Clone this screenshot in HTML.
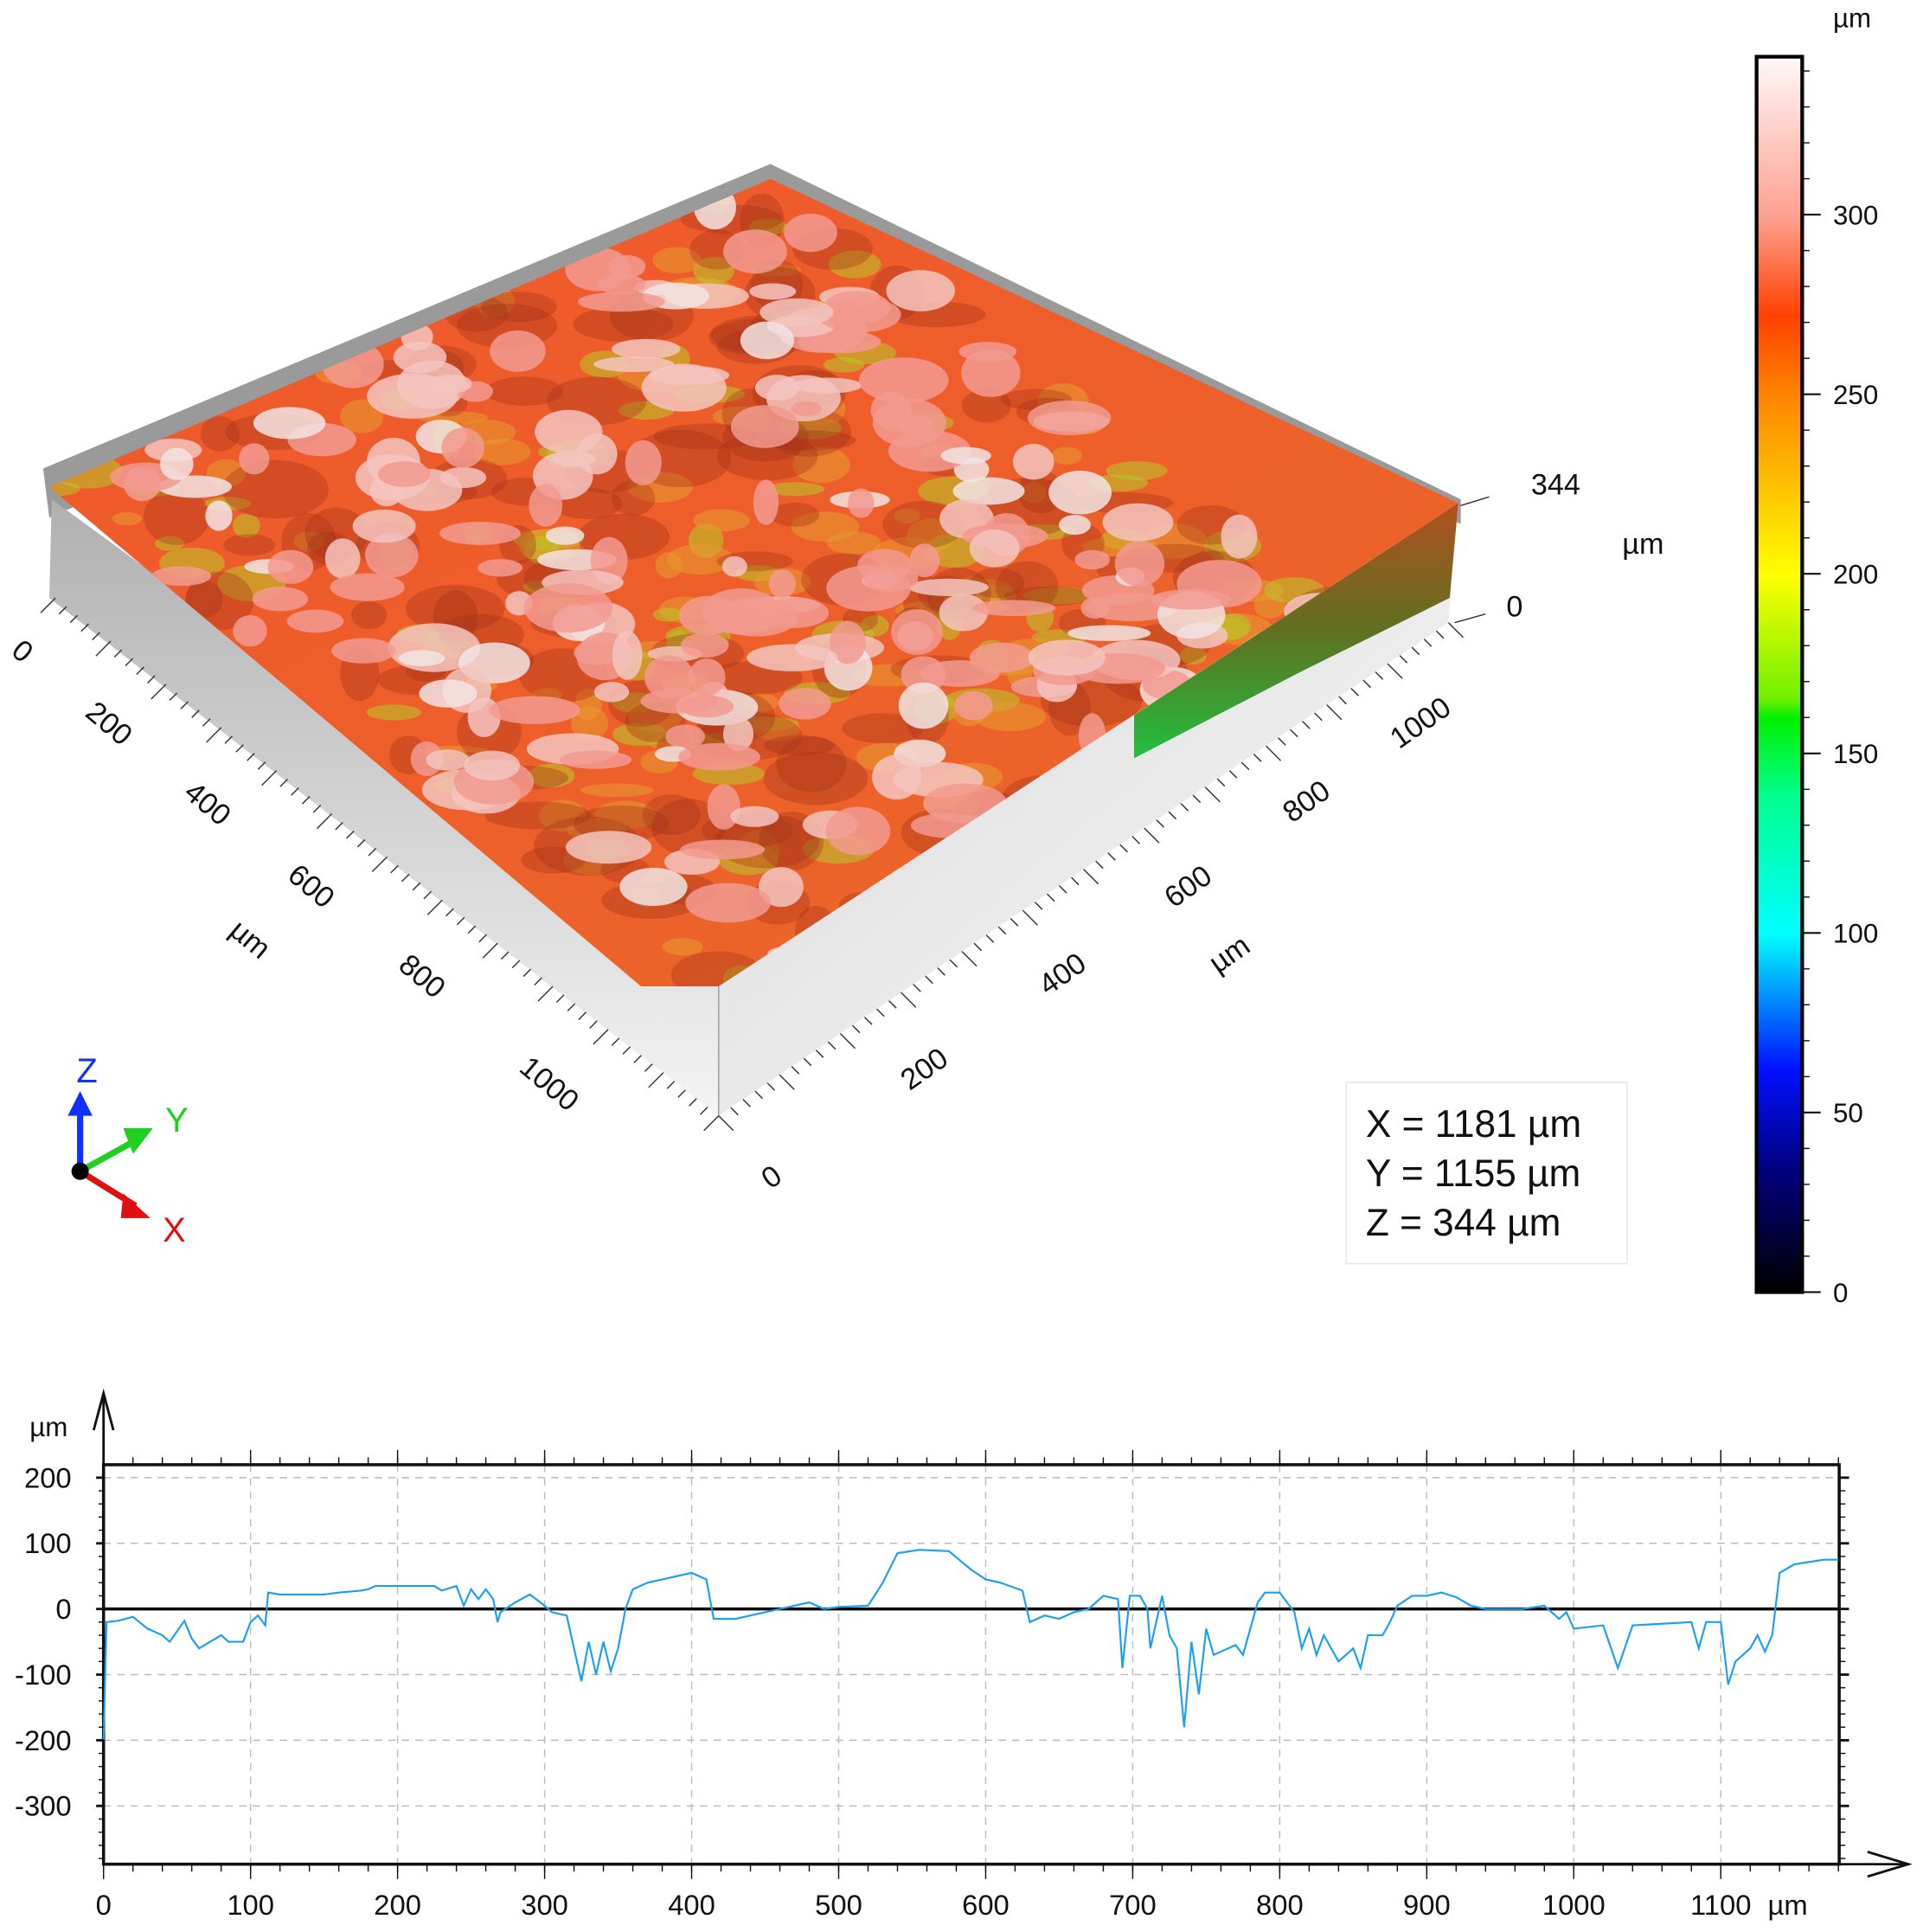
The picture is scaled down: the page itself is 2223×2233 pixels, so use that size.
<!DOCTYPE html>
<html><head><meta charset="utf-8"><style>
html,body{margin:0;padding:0;background:#fff}
svg{display:block;font-family:"Liberation Sans","DejaVu Sans",sans-serif}
</style></head><body>
<svg id="root" width="2223" height="2233" viewBox="0 0 1560 1567" xmlns="http://www.w3.org/2000/svg">
<defs>
<linearGradient id="cbar" x1="0" y1="1" x2="0" y2="0">
<stop offset="0" stop-color="#000"/><stop offset="0.1" stop-color="#000080"/><stop offset="0.18" stop-color="#0010ff"/><stop offset="0.29" stop-color="#00ffff"/><stop offset="0.4" stop-color="#00ff90"/><stop offset="0.465" stop-color="#00f000"/><stop offset="0.48" stop-color="#70f000"/><stop offset="0.58" stop-color="#ffff00"/><stop offset="0.73" stop-color="#ff8000"/><stop offset="0.79" stop-color="#ff4000"/><stop offset="0.87" stop-color="#ffa090"/><stop offset="1" stop-color="#fff8f8"/>
</linearGradient>
<linearGradient id="wallL" x1="0" y1="0" x2="0" y2="1"><stop offset="0" stop-color="#b0b0b0"/><stop offset="1" stop-color="#f4f4f4"/></linearGradient>
<linearGradient id="wallR" x1="0" y1="0" x2="1" y2="1"><stop offset="0" stop-color="#d8d8d8"/><stop offset="1" stop-color="#fafafa"/></linearGradient>
<linearGradient id="surf" x1="0" y1="0" x2="1" y2="1"><stop offset="0" stop-color="#f0582c"/><stop offset="0.5" stop-color="#ee5e2a"/><stop offset="1" stop-color="#e86a2a"/></linearGradient>
<linearGradient id="band" x1="0" y1="0" x2="0" y2="1"><stop offset="0" stop-color="#b05020"/><stop offset="0.5" stop-color="#607020"/><stop offset="1" stop-color="#20c040"/></linearGradient>
<clipPath id="surfClip"><polygon points="40,395 625,145 1183,408 583,800 520,800"/></clipPath>
</defs>

<g>
<polygon points="35,380 625,133 1185,405 1185,425 625,160 40,420" fill="#9a9a9a"/>
<polygon points="42,405 583,800 583,905 40,485" fill="url(#wallL)"/>
<polygon points="583,800 1183,408 1175,505 583,905" fill="url(#wallR)"/>
<polygon points="920,580 1183,408 1176,485 1055,545 920,615" fill="url(#band)"/>
<polygon points="40,395 625,145 1183,408 583,800 520,800" fill="url(#surf)"/>
<g id="texture" clip-path="url(#surfClip)"></g>
<line x1="583" y1="800" x2="583" y2="905" stroke="#999" stroke-width="1"/>
<g id="baseTicks" stroke="#333" stroke-width="1"></g>
<g font-size="24" fill="#111">
<text transform="translate(8,530) rotate(40)">0</text>
<text transform="translate(68,580) rotate(40)">200</text>
<text transform="translate(148,645) rotate(40)">400</text>
<text transform="translate(232,712) rotate(40)">600</text>
<text transform="translate(322,785) rotate(40)">800</text>
<text transform="translate(420,868) rotate(40)">1000</text>
<text transform="translate(185,757) rotate(40)">µm</text>
</g>
<g font-size="24" fill="#111">
<text transform="translate(625,965) rotate(-35)">0</text>
<text transform="translate(738,885) rotate(-35)">200</text>
<text transform="translate(850,808) rotate(-35)">400</text>
<text transform="translate(952,737) rotate(-35)">600</text>
<text transform="translate(1048,668) rotate(-35)">800</text>
<text transform="translate(1135,608) rotate(-35)">1000</text>
<text transform="translate(988,790) rotate(-35)">µm</text>
</g>
<g font-size="24" fill="#111">
<text x="1242" y="401">344</text><text x="1316" y="449">µm</text><text x="1222" y="500">0</text>
<line x1="1185" y1="410" x2="1208" y2="403" stroke="#333"/><line x1="1180" y1="505" x2="1205" y2="498" stroke="#333"/>
</g>
</g>

<g>
<line x1="65" y1="950" x2="65" y2="900" stroke="#1030ff" stroke-width="5"/><polygon points="55,905 75,905 65,885" fill="#1030ff"/>
<line x1="65" y1="950" x2="110" y2="925" stroke="#20d020" stroke-width="5"/><polygon points="100,915 124,915 108,936" fill="#20d020"/>
<line x1="65" y1="950" x2="110" y2="978" stroke="#e01010" stroke-width="5"/><polygon points="100,968 122,988 98,988" fill="#e01010"/>
<circle cx="65" cy="950" r="7" fill="#000"/>
<text x="62" y="878" font-size="28" fill="#1030ff">Z</text>
<text x="134" y="918" font-size="28" fill="#20d020">Y</text>
<text x="132" y="1007" font-size="28" fill="#e01010">X</text>
</g>

<g>
<rect x="1092" y="878" width="228" height="147" fill="#fff" stroke="#e4e4e4"/>
<text x="1108" y="922" font-size="31" fill="#111">X = 1181 µm</text>
<text x="1108" y="962" font-size="31" fill="#111">Y = 1155 µm</text>
<text x="1108" y="1002" font-size="31" fill="#111">Z = 344 µm</text>
</g>

<g>
<text x="1487" y="22" font-size="22" fill="#111">µm</text>
<rect x="1425" y="46" width="37" height="1002" fill="url(#cbar)" stroke="#000" stroke-width="3"/>
<g id="cbarTicks"></g>
</g>

<g>
<g id="grid"></g>
<rect x="84" y="1188" width="1408" height="324" fill="none" stroke="#111" stroke-width="2.5"/>
<line x1="84" y1="1512" x2="84" y2="1130" stroke="#111" stroke-width="2"/>
<polyline points="76,1160 84,1130 92,1160" fill="none" stroke="#111" stroke-width="2"/>
<line x1="84" y1="1512" x2="1545" y2="1512" stroke="#111" stroke-width="2"/>
<polyline points="1515,1502 1548,1512 1515,1522" fill="none" stroke="#111" stroke-width="2"/>
<text x="24" y="1165" font-size="22" fill="#111">µm</text>
<text x="1434" y="1553" font-size="23" fill="#111">µm</text>
<line id="zeroLine" stroke="#000" stroke-width="2.5"/>
<polyline id="profile" fill="none" stroke="#1aa0f0" stroke-width="1.5"/>
<g id="ticks"></g>
</g>
</svg>
<script>
const xTicks=[0,100,200,300,400,500,600,700,800,900,1000,1100];
const yTicks=[200,100,0,-100,-200,-300];
const cbarTicks=[0,50,100,150,200,250,300];
const profX=[0,2,10,20,30,40,45,55,60,65,80,85,95,100,105,110,112,120,150,160,175,180,185,200,225,230,240,245,250,255,260,265,268,270,280,290,300,305,315,320,325,330,335,340,345,350,355,360,370,390,400,410,415,430,440,460,480,490,500,520,530,540,555,575,590,600,610,625,630,640,650,660,670,680,690,693,698,705,710,712,720,725,730,735,740,745,750,755,760,770,775,780,785,790,800,810,815,820,825,830,840,850,855,860,870,875,880,890,900,910,920,930,940,950,965,980,990,995,1000,1020,1030,1040,1080,1085,1090,1100,1105,1110,1120,1125,1130,1135,1140,1150,1170,1180];
const profY=[-200,-20,-18,-12,-30,-40,-50,-18,-45,-60,-40,-50,-50,-20,-10,-25,25,22,22,25,28,30,35,35,35,28,35,5,30,15,30,15,-20,-5,10,22,5,-5,-10,-60,-110,-50,-100,-50,-95,-60,0,30,40,50,55,45,-15,-15,-10,0,10,0,3,5,40,85,90,88,60,45,40,28,-20,-10,-15,-5,0,20,15,-90,20,20,0,-60,20,-40,-60,-180,-50,-130,-30,-70,-65,-55,-70,-30,10,25,25,-5,-60,-30,-70,-40,-80,-60,-90,-40,-40,-20,5,20,20,25,18,5,0,0,0,5,-15,-5,-30,-25,-90,-25,-20,-60,-20,-20,-115,-80,-60,-40,-65,-40,55,68,75,75];
const NS="http://www.w3.org/2000/svg";
function sx(v){return 84+v*1.1927;}
function sy(v){return 1305-v*0.5325;}
function cy(v){return 1048-v*2.913;}
function mk(tag,attrs,parent){const e=document.createElementNS(NS,tag);for(const k in attrs)e.setAttribute(k,attrs[k]);parent.appendChild(e);return e;}
const grid=document.getElementById('grid'),ticks=document.getElementById('ticks');
xTicks.forEach(t=>{
 if(t>0){const g=mk('line',{x1:sx(t),x2:sx(t),y1:1188,y2:1512,stroke:'#bbb','stroke-dasharray':'6,5'},grid);
 
 }
 const l=mk('text',{x:sx(t),y:1553,'font-size':23,'text-anchor':'middle',fill:'#111'},ticks);
 l.textContent=t;
 
 
 mk('line',{x1:sx(t),x2:sx(t),y1:1176,y2:1188,stroke:'#111'},ticks);
 mk('line',{x1:sx(t),x2:sx(t),y1:1512,y2:1524,stroke:'#111'},ticks);
});
for(let v=0;v<=1180;v+=20){mk('line',{x1:sx(v),x2:sx(v),y1:1182,y2:1188,stroke:'#111'},ticks);mk('line',{x1:sx(v),x2:sx(v),y1:1512,y2:1518,stroke:'#111'},ticks);}
yTicks.forEach(t=>{
 if(t!==0){const g=mk('line',{x1:84,x2:1492,y1:sy(t),y2:sy(t),stroke:'#bbb','stroke-dasharray':'6,5'},grid);
 
 }
 const l=mk('text',{x:58,y:sy(t)+8,'font-size':23,'text-anchor':'end',fill:'#111'},ticks);
 l.textContent=t;
 
 
 mk('line',{x1:78,x2:84,y1:sy(t),y2:sy(t),stroke:'#111','stroke-width':2},ticks);
 mk('line',{x1:1492,x2:1500,y1:sy(t),y2:sy(t),stroke:'#111','stroke-width':2},ticks);
});
for(let v=-380;v<=210;v+=20){mk('line',{x1:80,x2:84,y1:sy(v),y2:sy(v),stroke:'#111'},ticks);mk('line',{x1:1492,x2:1497,y1:sy(v),y2:sy(v),stroke:'#111'},ticks);}
const z=document.getElementById('zeroLine');z.setAttribute('x1',84);z.setAttribute('x2',1492);z.setAttribute('y1',sy(0));z.setAttribute('y2',sy(0));
document.getElementById('profile').setAttribute('points',profX.map((x,i)=>sx(x)+','+sy(profY[i])).join(' '));
const cb=document.getElementById('cbarTicks');
cbarTicks.forEach(t=>{
 mk('line',{x1:1462,x2:1477,y1:cy(t),y2:cy(t),stroke:'#111','stroke-width':1.5},cb);
 const l=mk('text',{x:1487,y:cy(t)+8,'font-size':22,fill:'#111'},cb);
 l.textContent=t;
 
 
});
for(let v=10;v<=340;v+=10){mk('line',{x1:1462,x2:1468,y1:cy(v),y2:cy(v),stroke:'#111'},cb);}
// decorative surface texture
const tex=document.getElementById('texture');let s=7;function r(){s=(s*16807)%2147483647;return s/2147483647;}
for(let i=0;i<180;i++){const u=r(),w=r();const x=40+u*585+w*558,y=395-u*250+w*405;
 mk('ellipse',{cx:x,cy:y,rx:10+r()*22,ry:5+r()*10,fill:r()<0.5?'#b8c828':'#e89a30',opacity:0.55},tex);}
for(let i=0;i<140;i++){const u=r(),w=r();const x=40+u*585+w*558,y=395-u*250+w*405;
 mk('ellipse',{cx:x,cy:y+6,rx:14+r()*30,ry:8+r()*16,fill:'#a03018',opacity:0.35},tex);}
for(let i=0;i<220;i++){const u=r(),w=r();const x=40+u*585+w*558,y=395-u*250+w*405;const k=r();
 const col=k<0.55?'#f29a90':k<0.85?'#f4c4c0':'#f2e4e4';
 mk('ellipse',{cx:x,cy:y,rx:10+r()*28,ry:6+r()*14,fill:col,opacity:0.85},tex);}
const bt=document.getElementById('baseTicks');
for(let i=0;i<=60;i++){const t=i/60;const x1=45+t*538,y1=485+t*420;mk('line',{x1:x1,y1:y1,x2:x1-(i%5?6:12),y2:y1+(i%5?6:12)},bt);
 const x2=583+t*592,y2=905-t*400;mk('line',{x1:x2,y1:y2,x2:x2+(i%5?6:12),y2:y2+(i%5?6:12)},bt);}
</script>
</body></html>
